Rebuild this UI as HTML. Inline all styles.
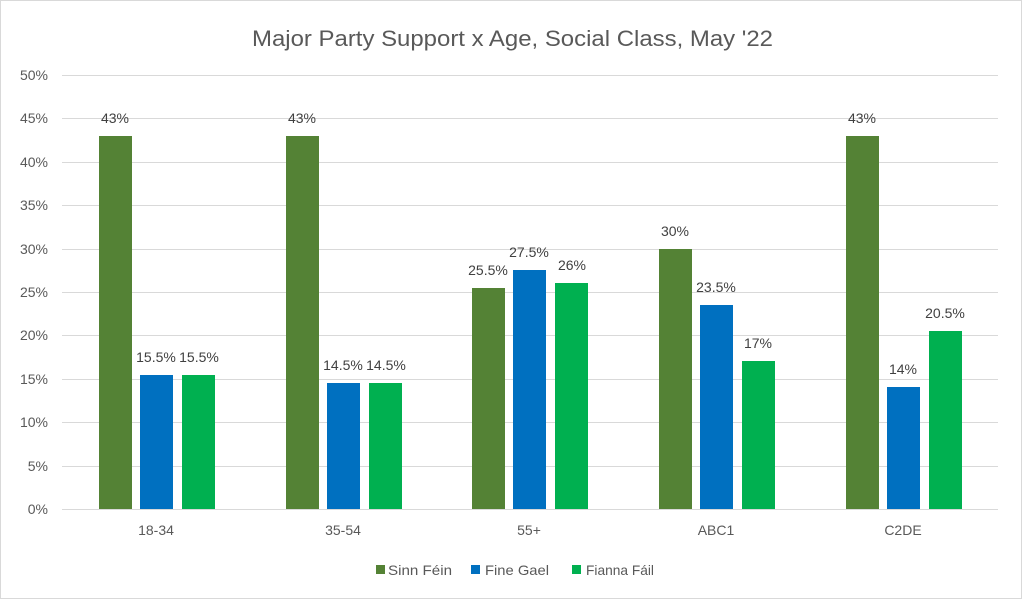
<!DOCTYPE html>
<html><head><meta charset="utf-8"><style>
body{margin:0;background:#fff;}
svg{display:block;font-family:"Liberation Sans",sans-serif;}
</style></head><body>
<svg width="1023" height="600" viewBox="0 0 1023 600">
<rect x="0.5" y="0.5" width="1021" height="598" fill="#fff" stroke="#d9d9d9"/>
<text x="252" y="46" font-size="22" fill="#595959" textLength="521" lengthAdjust="spacingAndGlyphs">Major Party Support x Age, Social Class, May '22</text>
<g stroke="#d9d9d9" stroke-width="1">
<line x1="62" x2="998" y1="75.5" y2="75.5"/><line x1="62" x2="998" y1="118.5" y2="118.5"/>
<line x1="62" x2="998" y1="162.5" y2="162.5"/><line x1="62" x2="998" y1="205.5" y2="205.5"/>
<line x1="62" x2="998" y1="249.5" y2="249.5"/><line x1="62" x2="998" y1="292.5" y2="292.5"/>
<line x1="62" x2="998" y1="335.5" y2="335.5"/><line x1="62" x2="998" y1="379.5" y2="379.5"/>
<line x1="62" x2="998" y1="422.5" y2="422.5"/><line x1="62" x2="998" y1="466.5" y2="466.5"/>
<line x1="62" x2="998" y1="509.5" y2="509.5"/>
</g>
<g font-size="14" fill="#595959" text-anchor="end">
<text x="48" y="80">50%</text><text x="48" y="123">45%</text><text x="48" y="167">40%</text>
<text x="48" y="210">35%</text><text x="48" y="254">30%</text><text x="48" y="297">25%</text>
<text x="48" y="340">20%</text><text x="48" y="384">15%</text><text x="48" y="427">10%</text>
<text x="48" y="471">5%</text><text x="48" y="514">0%</text>
</g>
<g>
<rect x="99" y="136" width="33" height="373" fill="#548235"/>
<rect x="140" y="375" width="33" height="134" fill="#0070c0"/>
<rect x="182" y="375" width="33" height="134" fill="#00b050"/>
<rect x="286" y="136" width="33" height="373" fill="#548235"/>
<rect x="327" y="383" width="33" height="126" fill="#0070c0"/>
<rect x="369" y="383" width="33" height="126" fill="#00b050"/>
<rect x="472" y="288" width="33" height="221" fill="#548235"/>
<rect x="513" y="270" width="33" height="239" fill="#0070c0"/>
<rect x="555" y="283" width="33" height="226" fill="#00b050"/>
<rect x="659" y="249" width="33" height="260" fill="#548235"/>
<rect x="700" y="305" width="33" height="204" fill="#0070c0"/>
<rect x="742" y="361" width="33" height="148" fill="#00b050"/>
<rect x="846" y="136" width="33" height="373" fill="#548235"/>
<rect x="887" y="387" width="33" height="122" fill="#0070c0"/>
<rect x="929" y="331" width="33" height="178" fill="#00b050"/>
</g>
<g font-size="14" fill="#404040" text-anchor="middle">
<text x="115" y="123">43%</text><text x="156" y="362">15.5%</text><text x="199" y="362">15.5%</text>
<text x="302" y="123">43%</text><text x="343" y="370">14.5%</text><text x="386" y="370">14.5%</text>
<text x="488" y="275">25.5%</text><text x="529" y="257">27.5%</text><text x="572" y="270">26%</text>
<text x="675" y="236">30%</text><text x="716" y="292">23.5%</text><text x="758" y="348">17%</text>
<text x="862" y="123">43%</text><text x="903" y="374">14%</text><text x="945" y="318">20.5%</text>
</g>
<g font-size="14" fill="#595959" text-anchor="middle">
<text x="156" y="535">18-34</text><text x="343" y="535">35-54</text><text x="529" y="535">55+</text>
<text x="716" y="535">ABC1</text><text x="903" y="535">C2DE</text>
</g>
<g font-size="14" fill="#595959">
<rect x="376" y="565" width="9" height="9" fill="#548235"/><text x="388" y="575" textLength="64" lengthAdjust="spacingAndGlyphs">Sinn Féin</text>
<rect x="471" y="565" width="9" height="9" fill="#0070c0"/><text x="485" y="575" textLength="64" lengthAdjust="spacingAndGlyphs">Fine Gael</text>
<rect x="572" y="565" width="9" height="9" fill="#00b050"/><text x="586" y="575" textLength="68" lengthAdjust="spacingAndGlyphs">Fianna Fáil</text>
</g>
</svg>
</body></html>
